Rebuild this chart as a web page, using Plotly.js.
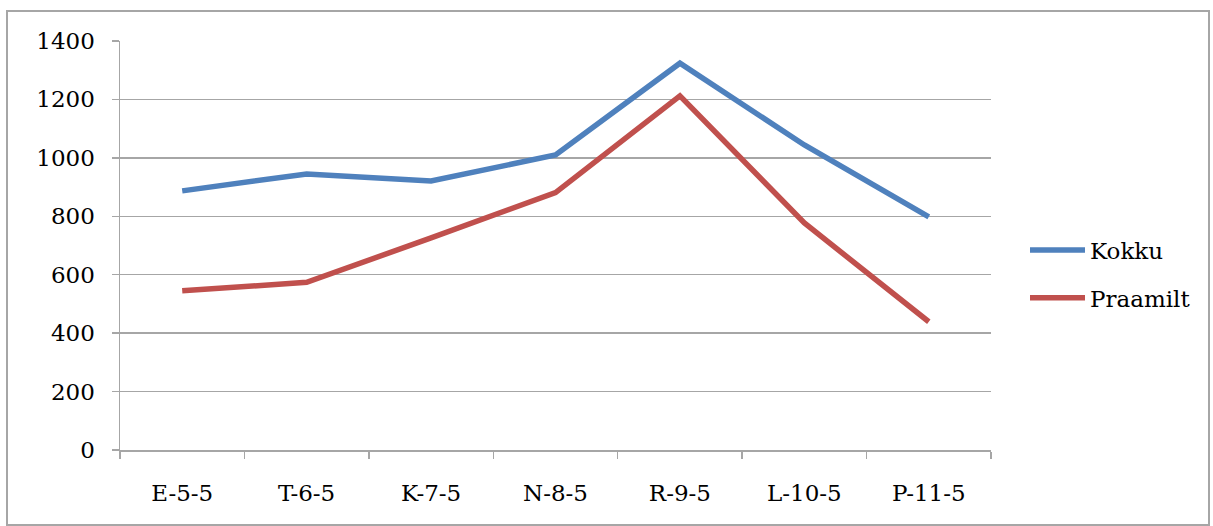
<!DOCTYPE html>
<html>
<head>
<meta charset="utf-8">
<script src="https://cdn.plot.ly/plotly-3.0.1.min.js"></script>
<style>html,body{margin:0;padding:0;background:#fff;}#chart{width:1213px;height:526px;}</style>
</head>
<body>
<div id="chart"></div>
<script>
const categories = ["E-5-5", "T-6-5", "K-7-5", "N-8-5", "R-9-5", "L-10-5", "P-11-5"];
const kokku = [887, 945, 921, 1010, 1324, 1044, 798];
const praamilt = [545, 574, 726, 881, 1212, 777, 439];
const yTicks = [0, 200, 400, 600, 800, 1000, 1200, 1400];

const W = 1213, H = 526, L = 120, R = 991, T = 41, B = 450;
const px = v => (v - L) / (R - L);
const py = v => (B - v) / (B - T);

const font = {family: "DejaVu Serif, Liberation Serif, serif", size: 23, color: "#000"};

const traces = [
  {x: categories, y: kokku, name: "Kokku", type: "scatter", mode: "lines",
   line: {color: "#4F81BD", width: 5.5}, legendgroup: "a"},
  {x: categories, y: praamilt, name: "Praamilt", type: "scatter", mode: "lines",
   line: {color: "#C0504D", width: 5.5}, legendgroup: "b"}
];

const layout = {
  width: W, height: H,
  margin: {l: L, r: W - R, t: T, b: H - B, pad: 0},
  paper_bgcolor: "#fff", plot_bgcolor: "#fff",
  font: font,
  showlegend: true,
  legend: {x: px(1025), xanchor: "left", y: py(274), yanchor: "middle",
           font: font, itemwidth: 55, tracegroupgap: 15, bgcolor: "rgba(0,0,0,0)"},
  xaxis: {type: "category", range: [-0.5, 6.5], tickson: "boundaries",
          ticks: "outside", ticklen: 7, tickcolor: "#a6a6a6", tickwidth: 1.5,
          showline: true, linecolor: "#a6a6a6", linewidth: 1.5, showgrid: false,
          ticklabelstandoff: 22, tickfont: font, zeroline: false, fixedrange: true},
  yaxis: {range: [0, 1400], tickvals: yTicks, ticktext: yTicks.map(String),
          ticks: "outside", ticklen: 7, tickcolor: "#a6a6a6", tickwidth: 1.5,
          showline: true, linecolor: "#a6a6a6", linewidth: 1.5,
          showgrid: true, gridcolor: "#a6a6a6", gridwidth: 1.5, zeroline: false,
          ticklabelstandoff: 12, tickfont: font, fixedrange: true},
  shapes: [
    {type: "rect", xref: "paper", yref: "paper", x0: px(7), x1: px(1209), y0: py(525), y1: py(11),
     line: {color: "#a6a6a6", width: 2}, layer: "below"}
  ]
};

Plotly.newPlot("chart", traces, layout, {staticPlot: true, displayModeBar: false});
</script>
</body>
</html>
